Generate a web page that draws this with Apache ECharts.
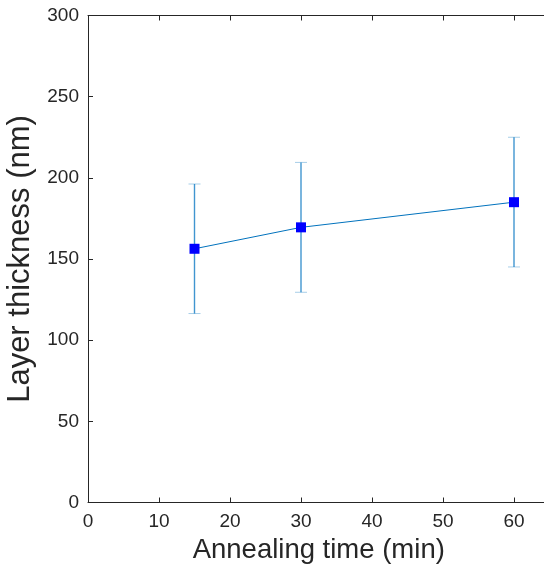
<!DOCTYPE html>
<html><head><meta charset="utf-8">
<script src="https://cdn.jsdelivr.net/npm/echarts@6/dist/echarts.min.js"></script>
<style>html,body{margin:0;padding:0;background:#fff;overflow:hidden}#c{width:544px;height:571px}</style>
</head><body><div id="c"></div>
<script>
var times = [15, 30, 60];
var thickness = [156.3, 169.5, 185.0];
var errLow = [116.4, 129.5, 145.1];
var errHigh = [196.2, 209.5, 225.0];
var xTicks = [0, 10, 20, 30, 40, 50, 60];
var yTicks = [0, 50, 100, 150, 200, 250, 300];

var font = '"Liberation Sans", Helvetica, Arial, sans-serif';
var axisColor = '#262626';
var chart = echarts.init(document.getElementById('c'));
var errData = times.map(function (t, i) { return [t, errLow[i], errHigh[i]]; });
var lineData = times.map(function (t, i) { return [t, thickness[i]]; });

chart.setOption({
  animation: false,
  grid: { left: 88, top: 15.5, width: 461.5, height: 487, containLabel: false, outerBoundsMode: 'none' },
  xAxis: [{
    type: 'value', min: 0, max: 65, interval: 10,
    name: 'Annealing time (min)', nameLocation: 'middle', nameGap: 34,
    nameTextStyle: { fontFamily: font, fontSize: 27.5, color: axisColor },
    axisLine: { lineStyle: { color: axisColor, width: 1 } },
    axisTick: { inside: true, length: 5, lineStyle: { color: axisColor } },
    axisLabel: { fontFamily: font, fontSize: 19, color: axisColor, margin: 10,
      formatter: function (v) { return xTicks.indexOf(v) >= 0 ? String(v) : ''; } },
    splitLine: { show: false }
  }, {
    type: 'value', min: 0, max: 65, interval: 10, position: 'top',
    axisLine: { show: true, lineStyle: { color: axisColor, width: 1 } },
    axisTick: { inside: true, length: 5, lineStyle: { color: axisColor } },
    axisLabel: { show: false }, splitLine: { show: false }
  }],
  yAxis: [{
    type: 'value', min: 0, max: 300, interval: 50,
    name: 'Layer thickness (nm)', nameLocation: 'middle', nameGap: 45,
    nameTextStyle: { fontFamily: font, fontSize: 31, color: axisColor },
    axisLine: { show: true, lineStyle: { color: axisColor, width: 1 } },
    axisTick: { show: true, inside: true, length: 5, lineStyle: { color: axisColor } },
    axisLabel: { fontFamily: font, fontSize: 19, color: axisColor, margin: 9,
      formatter: function (v) { return yTicks.indexOf(v) >= 0 ? String(v) : ''; } },
    splitLine: { show: false }
  }],
  series: [{
    type: 'custom',
    data: errData,
    encode: { x: 0, y: [1, 2] },
    z: 2,
    renderItem: function (params, api) {
      var x = api.value(0);
      var lo = api.coord([x, api.value(1)]);
      var hi = api.coord([x, api.value(2)]);
      var hw = 6;
      return {
        type: 'group',
        children: [
          { type: 'line', shape: { x1: lo[0], y1: lo[1], x2: hi[0], y2: hi[1] },
            style: { stroke: '#1f82c8', lineWidth: 1.4, opacity: 0.85 } },
          { type: 'line', shape: { x1: lo[0] - hw, y1: lo[1], x2: lo[0] + hw, y2: lo[1] },
            style: { stroke: '#0072BD', lineWidth: 1, opacity: 0.35 } },
          { type: 'line', shape: { x1: hi[0] - hw, y1: hi[1], x2: hi[0] + hw, y2: hi[1] },
            style: { stroke: '#0072BD', lineWidth: 1, opacity: 0.35 } }
        ]
      };
    }
  }, {
    type: 'line',
    data: lineData,
    z: 3,
    lineStyle: { color: '#0072BD', width: 1 },
    symbol: 'rect', symbolSize: 10,
    itemStyle: { color: '#0000FF', borderWidth: 0 }
  }]
});
</script></body></html>
